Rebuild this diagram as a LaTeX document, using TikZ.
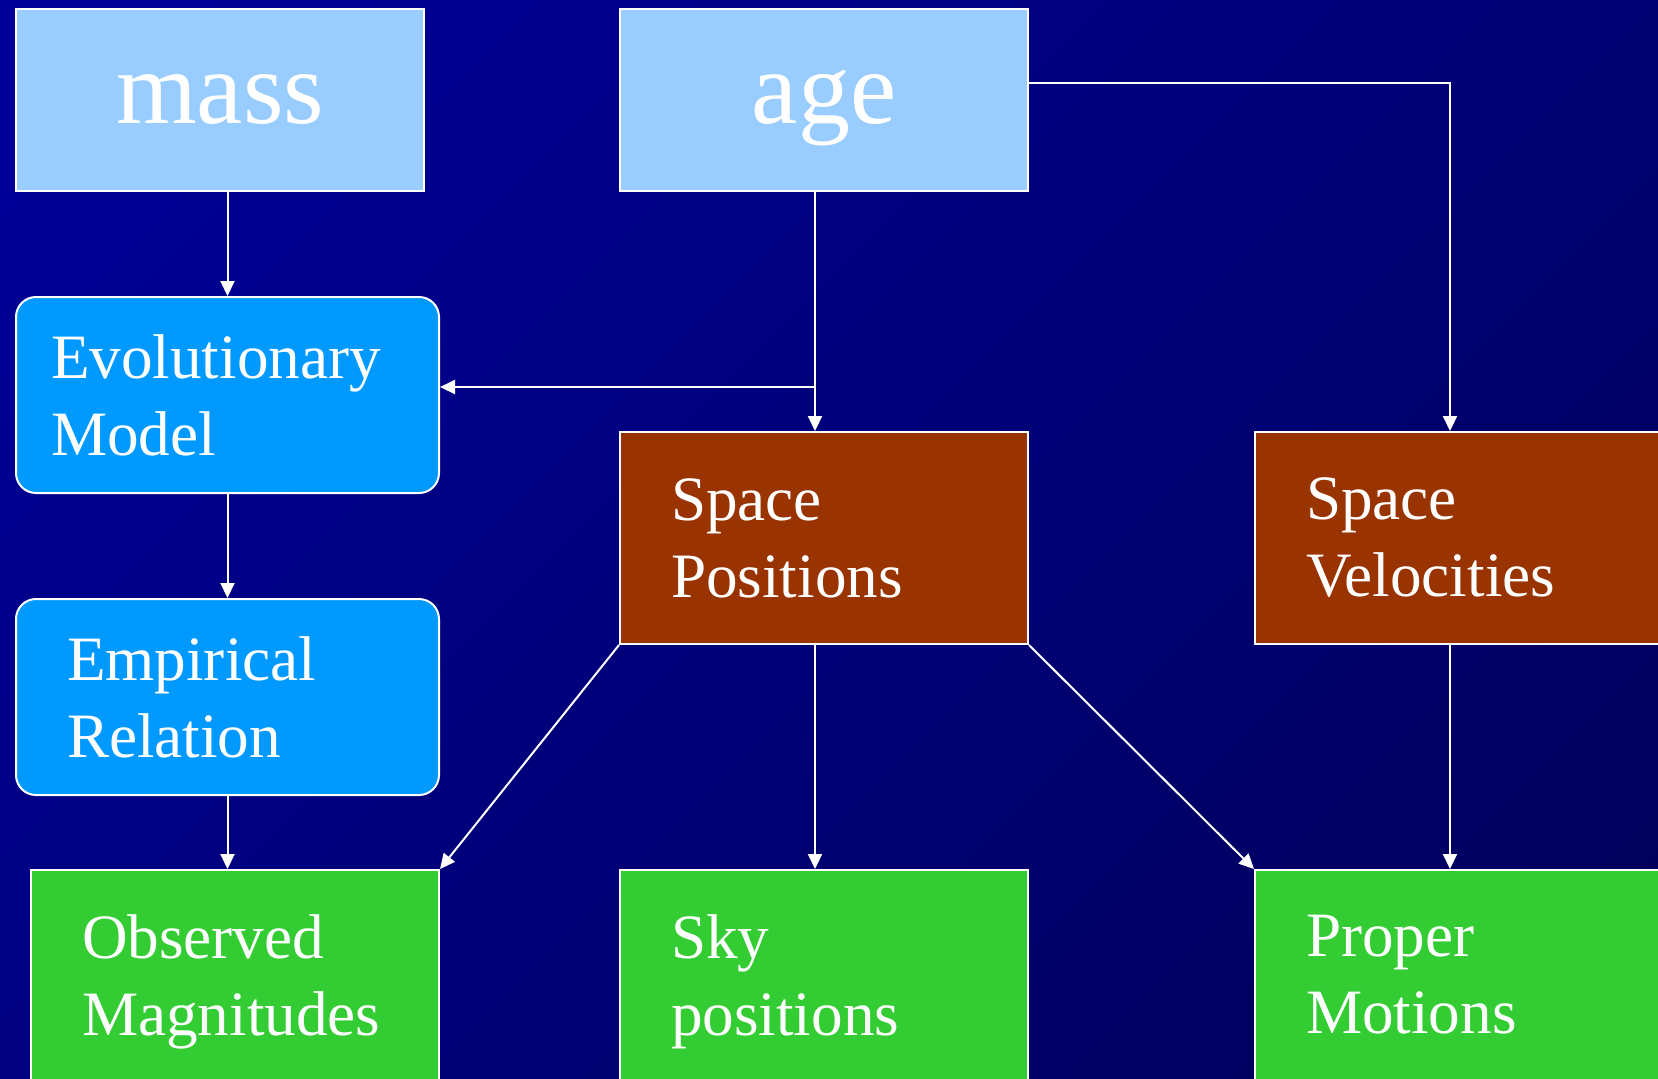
\documentclass[tikz,border=0pt]{standalone}
\usepackage{fontspec}
\setmainfont{Liberation Serif}
\usetikzlibrary{arrows.meta}
\definecolor{bgtop}{HTML}{000098}
\definecolor{bgbot}{HTML}{00005A}
\definecolor{inputc}{HTML}{99CCFF}
\definecolor{modelc}{HTML}{0099FF}
\definecolor{spacec}{HTML}{993300}
\definecolor{obsc}{HTML}{33CC33}
\tikzset{
  box/.style={draw=white, line width=1pt, text=white, anchor=north west, inner ysep=0pt},
  input/.style={box, fill=inputc, minimum width=204pt, minimum height=91pt, inner xsep=0pt,
    font=\fontsize{52}{60}\selectfont, text height=23pt, text depth=0pt},
  model/.style={box, fill=modelc, rounded corners=10pt, minimum height=98pt, align=left,
    font=\fontsize{31.6}{38.5}\selectfont},
  space/.style={box, fill=spacec, minimum height=106pt, inner xsep=25.5pt, text width=153pt,
    align=left, font=\fontsize{31.6}{38.5}\selectfont},
  observ/.style={box, fill=obsc, minimum height=112pt, inner xsep=25.5pt, text width=153pt,
    align=left, font=\fontsize{31.6}{38.5}\selectfont},
  link/.style={draw=white, line width=1pt, -{Triangle[length=7.5pt,width=7pt]}},
}

\begin{document}
\begin{tikzpicture}[x=0.5pt, y=-0.5pt]
\useasboundingbox (0,0) rectangle (1658,1078);
\clip (0,0) rectangle (1658,1078);
\shade[top color=bgtop, bottom color=bgbot, shading angle=45] (-200,-200) rectangle (1858,1278);

% inputs
\node[input] (mass) at (15,8) {mass};
\node[input] (age) at (619,8) {age};

% models
\node[model, inner xsep=17.5pt, text width=176.5pt] (evol) at (15,296) {Evolutionary\\Model};
\node[model, inner xsep=25.5pt, text width=160.5pt] (emp) at (15,598) {Empirical\\Relation};

% phase space
\node[space] (spos) at (619,431) {Space\\Positions};
\node[space] (svel) at (1254,431) {Space\\Velocities};

% observables
\node[observ] (obs) at (30,869) {Observed\\Magnitudes};
\node[observ] (sky) at (619,869) {Sky\\positions};
\node[observ, minimum height=105pt] (prop) at (1254,869) {Proper\\Motions};

\coordinate (agesplit) at (815,387);
\coordinate (ageturn) at (1450,83);

\draw[link] (evol.north |- mass.south) -- (evol.north);
\draw[link] (evol.south) -- (emp.north);
\draw[link] (emp.south) -- (emp.south |- obs.north);
\draw[link] (agesplit |- age.south) -- (agesplit |- spos.north);
\draw[link] (agesplit) -- (agesplit -| evol.east);
\draw[link] (age.east |- ageturn) -- (ageturn) -- (ageturn |- svel.north);
\draw[link] (spos.south west) -- (obs.north east);
\draw[link] (agesplit |- spos.south) -- (agesplit |- sky.north);
\draw[link] (spos.south east) -- (prop.north west);
\draw[link] (ageturn |- svel.south) -- (ageturn |- prop.north);
\end{tikzpicture}
\end{document}
